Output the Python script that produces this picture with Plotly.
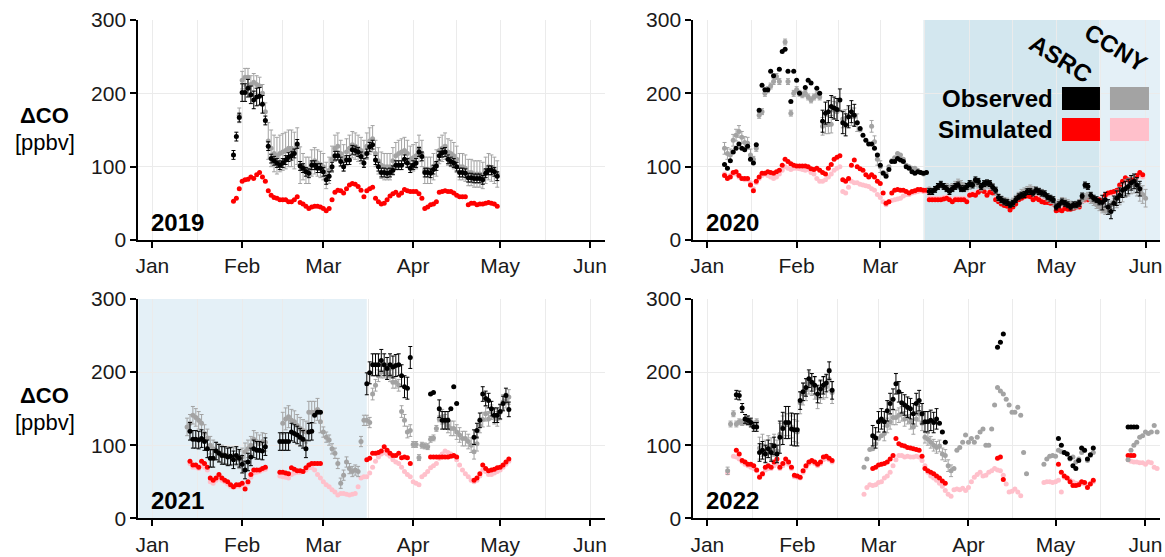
import datetime as dt
import plotly.graph_objects as go
from plotly.subplots import make_subplots

# ---------------- data (daily values, None = no data) ----------------
YEARS = [2019, 2020, 2021, 2022]
MONTH_TICKS = ["Jan", "Feb", "Mar", "Apr", "May", "Jun"]
Y_TICKS = [0, 100, 200, 300]

# ---- 2019 ----
OBS_ASRC_2019_START = "2019-01-29"
OBS_ASRC_2019 = [116,141,167,201,201,207,198,191,195,196,
                 185,163,128,111,108,105,102,105,109,113,
                 115,118,131,101,98,93,91,102,102,98,
                 98,93,82,87,100,115,115,107,100,109,
                 109,123,122,120,114,105,118,127,130,109,
                 100,92,92,91,92,95,102,102,102,110,
                 105,98,102,105,120,114,92,92,91,96,
                 101,115,119,120,110,107,105,100,92,92,
                 91,85,85,84,84,84,82,91,95,95,
                 93,87]
OBS_ASRC_2019_ERR = [6]*3 + [12]*8 + [6]*81
OBS_CCNY_2019_START = "2019-01-31"
OBS_CCNY_2019 = [170,218,222,222,212,215,212,210,200,175,
                 135,125,118,115,118,120,122,125,125,122,
                 128,102,100,95,95,105,108,105,103,100,
                 88,95,110,125,128,118,112,120,125,130,
                 128,125,122,118,128,135,138,118,108,102,
                 100,100,100,108,115,118,120,122,118,110,
                 112,115,125,118,95,95,95,100,105,122,
                 125,128,120,118,115,110,100,100,98,92,
                 92,90,90,90,88,95,100,98,95,90]
OBS_CCNY_2019_ERR = [10] + [12]*9 + [25]*12 + [18]*68
SIM_ASRC_2019_START = "2019-01-29"
SIM_ASRC_2019 = [53,57,70,80,82,83,86,84,89,92,
                 86,80,67,61,58,57,55,55,55,52,
                 52,55,59,51,49,46,43,45,46,46,
                 45,43,40,43,55,65,68,67,64,70,
                 75,77,76,73,68,59,67,70,72,57,
                 52,49,50,55,60,63,65,61,64,69,
                 67,66,66,66,63,57,43,45,48,49,
                 52,65,66,67,66,66,64,61,59,59,
                 59,48,50,50,48,49,49,50,51,50,
                 49,46]

# ---- 2020 ----
OBS_ASRC_2020_START = "2020-01-07"
OBS_ASRC_2020 = [103,98,108,120,125,131,125,123,128,110,
                 105,130,177,211,205,205,230,224,None,233,
                 257,260,230,189,230,218,200,None,208,218,
                 214,None,207,200,162,173,175,182,180,178,
                 191,160,157,168,175,170,160,152,143,136,
                 131,131,125,116,102,91,87,96,107,107,
                 111,109,107,100,98,93,91,93,92,91,
                 92,66,66,69,73,76,73,70,66,70,
                 73,75,70,70,73,77,75,82,80,73,
                 77,78,77,72,68,58,55,52,51,48,
                 50,55,59,61,62,66,66,64,68,66,
                 64,63,59,57,55,45,48,52,50,48,
                 45,48,48,50,60,75,73,61,57,55,
                 52,51,55,45,39,50,57,61,68,70,
                 73,78,80,75,70]
OBS_ASRC_2020_ERR = [None]*34 + [15]*12 + [None]*25 + [4]*60 + [10]*14
OBS_CCNY_2020_START = "2020-01-07"
OBS_CCNY_2020 = [125,118,116,136,143,148,140,133,132,116,
                 110,125,170,175,200,205,210,216,223,216,
                 None,270,216,173,200,205,200,198,200,195,
                 191,195,198,195,155,157,157,158,177,175,
                 None,165,166,168,168,168,160,150,None,None,
                 None,155,134,110,100,92,90,100,108,112,
                 118,116,110,102,100,98,98,95,92,90,
                 92,70,68,70,72,74,72,72,70,72,
                 75,78,76,73,72,74,76,78,76,72,
                 74,76,75,72,66,58,55,53,52,50,
                 52,56,60,64,66,68,70,68,67,66,
                 64,62,58,55,52,48,50,53,52,50,
                 48,46,48,50,55,58,60,55,52,48,
                 45,42,40,44,48,52,56,60,64,70,
                 72,75,76,72,65,62,57]
OBS_CCNY_2020_ERR = [8]*10 + [4]*24 + [12]*13 + [None]*4 + [8]*4 + [None]*22 + [5]*59 + [12]*11
SIM_ASRC_2020_START = "2020-01-07"
SIM_ASRC_2020 = [88,84,86,92,93,88,84,84,84,75,
                 67,80,86,91,91,93,92,91,93,95,
                 102,110,107,104,102,101,101,101,101,100,
                 97,96,98,95,92,90,98,103,110,113,
                 115,82,80,84,102,109,100,97,95,89,
                 86,89,86,80,77,64,50,52,64,68,
                 69,68,68,66,64,66,67,69,69,68,
                 68,55,55,55,55,55,56,57,55,52,
                 55,55,55,55,52,61,62,61,65,68,
                 66,61,65,64,55,52,49,47,46,41,
                 45,49,55,57,59,60,59,55,57,55,
                 52,51,51,50,49,40,41,40,43,42,
                 42,43,45,45,55,55,55,55,55,52,
                 55,52,61,64,65,66,68,75,80,85,
                 82,82,82,88,92,89]
SIM_CCNY_2020_START = "2020-01-07"
SIM_CCNY_2020 = [90,86,88,90,90,86,84,82,82,78,
                 70,78,84,88,90,88,86,84,86,90,
                 95,100,98,96,98,98,97,96,95,96,
                 92,90,84,80,80,82,86,90,95,98,
                 100,66,64,72,80,78,78,76,75,74,
                 73,70,68,62,58,52,48,52,54,55,
                 56,57,60,62,62,64,65,66,67,66,
                 66,58,57,57,57,57,58,59,57,55,
                 57,57,57,57,55,62,63,63,66,68,
                 67,63,66,65,57,54,51,49,48,44,
                 47,51,56,58,60,61,60,57,58,57,
                 54,53,53,52,51,44,44,44,46,45,
                 46,46,48,48,52,54,55,55,55,54,
                 56,54,60,62,63,64,66,72,76,80,
                 80,80,80,85,88,86]

# ---- 2021 ----
OBS_ASRC_2021_START = "2021-01-14"
OBS_ASRC_2021 = ([119,108,108,107,109,105,95,82,82,92,
                  89,86,86,84,85,80,86,82,74,66,
                  77,84,95,93,93,92,98] + [None]*4 +
                 [105,105,105,105,118,116,114,111,108,95,
                  118,119,141,145,145] + [None]*15 +
                 [184,199,210,210,210,216,210,205,210,207,
                  209,210,195,180,178,220] + [None]*6 +
                 [170,172,None,150,134,134,134,150,180,157] + [None]*5 +
                 [111,120,134,170,164,161,150,141,141,146,157,168,149])
OBS_ASRC_2021_ERR = [12]*27 + [None]*4 + [12]*12 + [None]*18 + [15]*16 + [None]*9 + [12]*4 + [None]*8 + [10]*13
OBS_CCNY_2021_START = "2021-01-13"
OBS_CCNY_2021 = ([125,130,141,138,134,130,116,110,100,95,
                  92,90,88,86,86,84,86,84,80,
                  84,91,95,100,108,105,102,105,104] + [None]*5 +
                 [130,136,139,134,132,127,123,120,118,145,145,145,149,132,
                  118,111,107,95,89,75,48,59,77,68,64,66,64,105,134,134,131,
                  170,182,195,200,200,198,195,186,186,182,146,134,118,120,
                  101,101,83,100,99,98,108,110,123,136,
                  139,132,127,123,123,118,114,109,109,105,100,91,102,127,
                  135,143,136,145,139,136,145,159,161,166])
OBS_CCNY_2021_ERR = [12]*28 + [None]*5 + [15]*14 + [7]*17 + [8]*14 + [4]*10 + [10]*24
SIM_ASRC_2021_START = "2021-01-14"
SIM_ASRC_2021 = ([78,73,73,70,78,75,70,55,52,55,
                  60,55,52,50,46,43,46,46,48,40,
                  50,60,66,66,66,68,70] + [None]*4 +
                 [63,63,62,61,69,67,65,65,64,69,73,75,75,75,75] + [None]*15 +
                 [80,82,89,89,90,92,98,93,89,86,86,89,83,84,83,75] + [None]*6 +
                 [84,84,84,84,84,84,84,85,86,84] + [None]*5 +
                 [52,55,61,73,68,65,66,67,69,70,73,77,81])
SIM_CCNY_2021_START = "2021-01-14"
SIM_CCNY_2021 = ([75,70,70,68,72,70,66,50,48,52,
                  56,52,50,47,44,42,44,44,46,42,
                  48,56,62,63,64,66,67] + [None]*4 +
                 [58,57,56,55,60,62,63,63,64,66,
                  69,69,66,60,55,50,46,43,39,36,
                  32,34,34,33,32,33,34,43,55,57,
                  57,62,70,78,84,88,90,88,85,80,
                  77,75,70,64,60,57,50,48,46,57,
                  60,64,69,72,75,82,88,92,90,88,
                  85,80,73,66,61,57,52,50,52,58,
                  66,64,60,60,62,64,66,70,74,78])

# ---- 2022 ----
OBS_ASRC_2022_START = "2022-01-11"
OBS_ASRC_2022 = ([169,168,151,136,134,131,125,125,90,93,
                  88,95,90,99,88,111,123,131,131,122,
                  121,121,161,173,179,191,186,182,170,177,
                  182,185,202,175] + [None]*13 +
                 [113,110,132,136,132,147,157,163,184,173,
                  158,155,152,150,143,157,161,143,132,132,
                  134,131,136,130,118,104] + [None]*17 +
                 [234,241,252] + [None]*18 +
                 [109,100,90,88,82,72,68,79,96,93,81,87,96] + [None]*11 +
                 [125,125,125,125])
OBS_ASRC_2022_ERR = [6]*8 + [12]*7 + [22]*7 + [12]*12 + [None]*13 + [14]*23 + [None]*69
OBS_CCNY_2022_START = "2022-01-08"
OBS_CCNY_2022 = ([65,
                  129,143,129,132,131,132,132,131,129,132,
                  96,100,92,98,95,100,92,115,125,128,128,125,120,118,
                  158,170,176,185,183,178,165,172,178,180,190,172] + [None]*10 +
                 [70,81,94,95,102,109,113,116,127,132,
                  138,138,141,143,136,139,132,125,136,143,
                  130,111,108,104,100,97,99,88,86,72,
                  65,68,93,97,104,114,104,109,104,111,
                  118,122,100,100,122,155,179,174,170,163,
                  155,145,145,152,141,90,61] + [None]*5 +
                 [74,81,85,86,85,93,91,90,88,81,84,77,81,90,93,79,86,90] + [None]*11 +
                 [80,93,100,104,111,113,118,116,118,127,118])
OBS_CCNY_2022_ERR = [5] + [4]*10 + [15]*26 + [None]*17 + [10]*14 + [8]*10 + [None]*71
SIM_ASRC_2022_START = "2022-01-11"
SIM_ASRC_2022 = ([93,88,79,77,74,74,72,66,56,61,
                  70,72,70,77,81,70,75,81,77,70,
                  59,58,56,65,72,77,79,77,74,77,
                  84,85,82,79] + [None]*13 +
                 [68,70,73,74,75,77,81,86,109,102,
                  100,99,97,96,95,94,93,85,68,65,
                  63,61,58,55,51,48] + [None]*17 +
                 [82,84,53] + [None]*18 +
                 [74,63,58,55,50,45,45,46,50,49,42,47,52] + [None]*11 +
                 [86,86,86])
SIM_CCNY_2022_START = "2022-01-08"
SIM_CCNY_2022 = ([62, None,
                  85,84,81,77,74,72,70,68,65,58,
                  60,66,68,68,72,75,68,72,76,74,
                  68,57,56,55,63,70,75,77,75,72,
                  75,80,82,80,77] + [None]*10 +
                 [33,42,46,45,46,49,50,55,58,63,
                  72,80,86,86,84,85,84,84,85,84,
                  79,72,63,58,55,52,48,44,38,33,
                  30,39,40,39,41,38,42,50,56,60,
                  63,58,59,63,65,68,66,65,59,47,
                  36,37,40,36,31] + [None]*7 +
                 [49,50,50,49,50,52,36,56,55,52,50,48,48,48,47,46,48,50] + [None]*11 +
                 [80,78,77,77,76,76,74,77,76,70,68])

# shaded periods
SHADE_2020_DARK = ("2020-03-16", "2020-05-16")
SHADE_2020_LIGHT = ("2020-05-16", None)
SHADE_2021_LIGHT = (None, "2021-03-16")

PANELS = {
    2019: [("red", SIM_ASRC_2019_START, SIM_ASRC_2019, None),
           ("gray", OBS_CCNY_2019_START, OBS_CCNY_2019, OBS_CCNY_2019_ERR),
           ("black", OBS_ASRC_2019_START, OBS_ASRC_2019, OBS_ASRC_2019_ERR)],
    2020: [("pink", SIM_CCNY_2020_START, SIM_CCNY_2020, None), ("red", SIM_ASRC_2020_START, SIM_ASRC_2020, None),
           ("gray", OBS_CCNY_2020_START, OBS_CCNY_2020, OBS_CCNY_2020_ERR),
           ("black", OBS_ASRC_2020_START, OBS_ASRC_2020, OBS_ASRC_2020_ERR)],
    2021: [("pink", SIM_CCNY_2021_START, SIM_CCNY_2021, None), ("red", SIM_ASRC_2021_START, SIM_ASRC_2021, None),
           ("gray", OBS_CCNY_2021_START, OBS_CCNY_2021, OBS_CCNY_2021_ERR),
           ("black", OBS_ASRC_2021_START, OBS_ASRC_2021, OBS_ASRC_2021_ERR)],
    2022: [("pink", SIM_CCNY_2022_START, SIM_CCNY_2022, None), ("red", SIM_ASRC_2022_START, SIM_ASRC_2022, None),
           ("gray", OBS_CCNY_2022_START, OBS_CCNY_2022, OBS_CCNY_2022_ERR),
           ("black", OBS_ASRC_2022_START, OBS_ASRC_2022, OBS_ASRC_2022_ERR)],
}

# ---------------- styling ----------------
COLORS = {"black": "#000000", "gray": "#a3a3a3", "red": "#ff0000", "pink": "#ffc0cb"}
FONT = "Liberation Sans, Arial, sans-serif"
W, H = 1165, 557
XDOM = [(138.3 / W, 604.5 / W), (693.3 / W, 1160 / W)]
YDOM = [(1 - 240 / H, 1 - 20 / H), (1 - 518.3 / H, 1 - 299 / H)]


def dates(start, n):
    d0 = dt.date.fromisoformat(start)
    return [d0 + dt.timedelta(days=i) for i in range(n)]


def fit(err, n):
    err = list(err)[:n]
    return err + [None] * (n - len(err))


fig = make_subplots(rows=2, cols=2)

for k, year in enumerate(YEARS):
    row, col = k // 2 + 1, k % 2 + 1
    for cname, start, vals, err in PANELS[year]:
        tr = dict(x=dates(start, len(vals)), y=vals, mode="markers",
                  marker=dict(size=5, color=COLORS[cname]), showlegend=False,
                  hoverinfo="x+y")
        if err is not None:
            tr["error_y"] = dict(type="data", array=fit(err, len(vals)), visible=True,
                                 color=COLORS[cname], thickness=1, width=2)
        fig.add_trace(go.Scatter(**tr), row=row, col=col)

    ax = "" if k == 0 else str(k + 1)
    x0 = f"{year - 1}-12-27 04:00"
    x1 = f"{year}-06-06 00:00"
    major = [f"{year}-{m:02d}-01" for m in range(1, 7)]
    minor = []
    for m in range(1, 6):
        a = dt.datetime(year, m, 1)
        b = dt.datetime(year, m + 1, 1)
        minor.append((a + (b - a) / 2).isoformat())
    fig.layout["xaxis" + ax].update(
        domain=XDOM[col - 1], range=[x0, x1], type="date",
        tickmode="array", tickvals=major, ticktext=MONTH_TICKS,
        ticks="outside", ticklen=6, tickwidth=2, tickcolor="#000",
        showline=True, linecolor="#000", linewidth=2,
        showgrid=True, gridcolor="#ebebeb", gridwidth=1, zeroline=False,
        minor=dict(tickmode="array", tickvals=minor, showgrid=True,
                   gridcolor="#ebebeb", gridwidth=1, ticks=""),
        tickfont=dict(family=FONT, size=21, color="#1a1a1a"),
        automargin=False, fixedrange=True)
    fig.layout["yaxis" + ax].update(
        domain=YDOM[row - 1], range=[0, 300], tickmode="array", tickvals=Y_TICKS,
        ticks="outside", ticklen=6, tickwidth=2, tickcolor="#000",
        showline=True, linecolor="#000", linewidth=2,
        showgrid=True, gridcolor="#ebebeb", gridwidth=1, zeroline=False,
        tickfont=dict(family=FONT, size=21, color="#1a1a1a"),
        automargin=False, fixedrange=True)
    # year label
    fig.add_annotation(xref=f"x{ax} domain", yref=f"y{ax} domain", x=0.022, y=0.08,
                       xanchor="left", yanchor="middle", showarrow=False,
                       text=f"<b>{year}</b>", font=dict(family=FONT, size=24, color="#000"))

# shaded periods
def add_shade(ax, period, year, color):
    s, e = period
    s = s or f"{year - 1}-12-27 04:00"
    e = e or f"{year}-06-06 00:00"
    fig.add_shape(type="rect", xref=f"x{ax}", yref=f"y{ax} domain", x0=s, x1=e, y0=0, y1=1,
                  fillcolor=color, line=dict(width=0), layer="below")

add_shade("2", SHADE_2020_DARK, 2020, "#d3e7ef")
add_shade("2", SHADE_2020_LIGHT, 2020, "#e4f0f7")
add_shade("3", SHADE_2021_LIGHT, 2021, "#e4f0f7")

# y titles
for yc, yp in [(1 - 115 / H, 1 - 142 / H), (1 - 395 / H, 1 - 422 / H)]:
    fig.add_annotation(xref="paper", yref="paper", x=44 / W, y=yc, xanchor="center",
                       yanchor="middle", showarrow=False,
                       text="<b>ΔCO</b>", font=dict(family=FONT, size=22, color="#000"))
    fig.add_annotation(xref="paper", yref="paper", x=45 / W, y=yp, xanchor="center",
                       yanchor="middle", showarrow=False,
                       text="[ppbv]", font=dict(family=FONT, size=22, color="#000"))

# custom legend in 2020 panel
LEG = [("black", 0.790, 0.8714, 0.591, 0.695), ("gray", 0.8928, 0.9764, 0.591, 0.695),
       ("red", 0.790, 0.8714, 0.45, 0.5545), ("pink", 0.8928, 0.9764, 0.45, 0.5545)]
for cname, lx0, lx1, ly0, ly1 in LEG:
    fig.add_shape(type="rect", xref="x2 domain", yref="y2 domain", x0=lx0, x1=lx1, y0=ly0, y1=ly1,
                  fillcolor=COLORS[cname], line=dict(width=0), layer="above")
for txt, yy in [("Observed", 0.643), ("Simulated", 0.502)]:
    fig.add_annotation(xref="x2 domain", yref="y2 domain", x=0.775, y=yy, xanchor="right",
                       yanchor="middle", showarrow=False, text=f"<b>{txt}</b>",
                       font=dict(family=FONT, size=24, color="#000"))
for txt, xx, yy in [("ASRC", 0.787, 0.825), ("CCNY", 0.905, 0.875)]:
    fig.add_annotation(xref="x2 domain", yref="y2 domain", x=xx, y=yy, xanchor="center",
                       yanchor="middle", showarrow=False, text=f"<b>{txt}</b>", textangle=32,
                       font=dict(family=FONT, size=24, color="#000"))

fig.update_layout(width=W, height=H, margin=dict(l=0, r=0, t=0, b=0),
                  paper_bgcolor="white", plot_bgcolor="white", showlegend=False,
                  font=dict(family=FONT))

fig.write_html("out.html", config={"displayModeBar": False},
               post_script="document.body.style.margin='0';document.body.style.overflow='hidden';")
